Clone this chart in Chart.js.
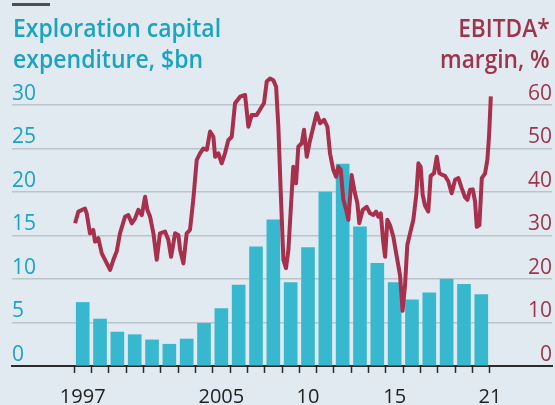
<!DOCTYPE html>
<html>
<head>
<meta charset="utf-8">
<script src="https://cdn.jsdelivr.net/npm/chart.js@4.4.1/dist/chart.umd.min.js"></script>
<style>
  html, body { margin: 0; padding: 0; }
  #wrap { position: relative; width: 555px; height: 405px; background: #e1eaf0; overflow: hidden; font-family: "Open Sans", sans-serif; }
  #c { position: absolute; left: 0; top: 0; }
  .rule { position: absolute; left: 12px; top: 3px; width: 38px; height: 3px; background: #4d4f52; }
  .ttl { position: absolute; font-size: 25px; font-weight: 600; line-height: 31px; white-space: nowrap; }
  #t1 { left: 13px; top: 12px; color: #1aa3c2; transform-origin: left top; }
  #t2 { right: 5px; top: 12px; color: #9e344c; text-align: right; transform-origin: right top; }
</style>
</head>
<body>
<div id="wrap">
  <canvas id="c" width="555" height="405"></canvas>
  <div class="rule"></div>
  <div class="ttl" id="t1">Exploration capital<br>expenditure, $bn</div>
  <div class="ttl" id="t2">EBITDA*<br>margin, %</div>
</div>
<script>
// exploration capex, $bn, one bar per year
const capexYears = [1997, 1998, 1999, 2000, 2001, 2002, 2003, 2004, 2005, 2006, 2007, 2008,
                    2009, 2010, 2011, 2012, 2013, 2014, 2015, 2016, 2017, 2018, 2019, 2020];
const capex = [7.3, 5.4, 3.9, 3.6, 3.0, 2.5, 3.1, 4.9, 6.6, 9.3, 13.7, 16.8,
               9.6, 13.6, 20.0, 23.2, 16.0, 11.8, 9.6, 7.6, 8.4, 10.0, 9.4, 8.2];

// EBITDA margin, %
const marginDates = [
  1997.06, 1997.25, 1997.63, 1997.73, 1997.92, 1998.11, 1998.21, 1998.40, 1998.60, 1998.89,
  1999.08, 1999.27, 1999.46, 1999.65, 1999.94, 2000.13, 2000.33, 2000.52, 2000.71, 2000.91,
  2001.10, 2001.23, 2001.39, 2001.58, 2001.77, 2001.96, 2002.25, 2002.44, 2002.60, 2002.83,
  2003.02, 2003.12, 2003.31, 2003.50, 2003.69, 2003.88, 2004.08, 2004.27, 2004.46, 2004.66,
  2004.85, 2005.04, 2005.14, 2005.33, 2005.52, 2005.71, 2005.90, 2006.10, 2006.29, 2006.58,
  2006.87, 2007.06, 2007.25, 2007.54, 2007.83, 2007.96, 2008.12, 2008.31, 2008.50, 2008.66,
  2008.79, 2008.93, 2009.08, 2009.23, 2009.37, 2009.56, 2009.65, 2009.81, 2009.94, 2010.14,
  2010.27, 2010.43, 2010.58, 2010.81, 2011.00, 2011.20, 2011.43, 2011.62, 2011.77, 2011.96,
  2012.12, 2012.25, 2012.39, 2012.54, 2012.70, 2012.83, 2012.93, 2013.02, 2013.21, 2013.35,
  2013.46, 2013.66, 2013.89, 2014.08, 2014.27, 2014.43, 2014.56, 2014.70, 2014.85, 2014.95,
  2015.08, 2015.23, 2015.42, 2015.62, 2015.81, 2015.96, 2016.10, 2016.23, 2016.39, 2016.58,
  2016.75, 2016.87, 2017.00, 2017.12, 2017.25, 2017.44, 2017.58, 2017.77, 2017.93, 2018.08,
  2018.22, 2018.41, 2018.60, 2018.79, 2018.99, 2019.18, 2019.37, 2019.56, 2019.70, 2019.85,
  2020.01, 2020.14, 2020.24, 2020.39, 2020.53, 2020.72, 2020.85, 2020.95, 2021.05
];
const margin = [
  32.8, 35.5, 36.2, 35.1, 30.5, 31.3, 28.6, 29.4, 25.9, 23.6,
  22.1, 24.4, 26.3, 30.5, 34.3, 34.7, 32.8, 33.9, 35.9, 34.7,
  38.9, 35.9, 34.3, 30.5, 24.4, 30.5, 30.9, 29.0, 25.1, 30.5,
  30.1, 26.7, 23.6, 30.5, 31.3, 38.2, 47.4, 48.9, 50.0, 49.7,
  53.9, 52.7, 48.1, 48.9, 46.6, 48.9, 51.9, 52.7, 60.4, 61.9,
  62.3, 55.0, 57.7, 57.7, 59.6, 60.4, 65.4, 66.1, 65.7, 64.2,
  55.0, 39.7, 24.4, 22.5, 26.7, 39.7, 45.8, 42.0, 50.4, 51.2,
  54.3, 48.1, 51.2, 55.0, 58.1, 55.8, 56.6, 55.0, 48.9, 45.1,
  43.5, 45.8, 45.1, 38.2, 35.9, 33.6, 38.9, 43.9, 39.7, 37.4,
  32.8, 35.9, 36.6, 35.1, 34.7, 35.5, 34.3, 35.1, 28.2, 25.1,
  33.6, 32.4, 29.8, 25.2, 20.9, 12.7, 18.6, 27.8, 30.5, 33.6,
  39.4, 46.6, 45.8, 39.3, 36.9, 35.5, 43.7, 44.3, 48.1, 44.3,
  44.0, 43.7, 42.4, 39.7, 42.8, 43.2, 40.9, 38.8, 38.2, 40.5,
  40.6, 37.8, 32.0, 32.4, 43.2, 44.3, 47.4, 53.0, 62.0
];

// x axis: tick marks at the start of each year, labels in the middle of the year
const tickYears = [1997, 1998, 1999, 2000, 2001, 2002, 2003, 2004, 2005, 2006, 2007, 2008, 2009,
                   2010, 2011, 2012, 2013, 2014, 2015, 2016, 2017, 2018, 2019, 2020, 2021];
const labelPos = [1997.5, 2005.5, 2010.5, 2015.5, 2021];
const labelText = ['1997', '2005', '10', '15', '21'];

const CYAN = '#1aa3c2';
const BAR = '#38b8cf';
const RED = '#9e344c';
const LINE = '#a8304c';
const GRID = '#bcc4ca';

// squeeze the headings to the condensed look of the original
function fitTitle(id, w) {
  const el = document.getElementById(id);
  const sc = w / el.offsetWidth;
  el.style.transform = 'scaleX(' + sc + ')';
}
fitTitle('t1', 208);
fitTitle('t2', 110);

const barData = capexYears.map((y, i) => ({ x: y + 0.5, y: capex[i] }));
const lineData = marginDates.map((d, i) => ({ x: d, y: margin[i] }));

const ctx = document.getElementById('c').getContext('2d');
const chart = new Chart(ctx, {
  type: 'bar',
  data: {
    datasets: [{
      type: 'line',
      data: lineData,
      yAxisID: 'y1',
      borderColor: LINE,
      borderWidth: 4,
      pointRadius: 0,
      tension: 0,
      borderJoinStyle: 'round',
      clip: false,
      order: 0
    }, {
      type: 'bar',
      data: barData,
      yAxisID: 'y',
      backgroundColor: BAR,
      barThickness: 13,
      order: 1
    }]
  },
  options: {
    responsive: false,
    animation: false,
    layout: { padding: { left: 12, right: 3, top: 105, bottom: 0 } },
    plugins: {
      legend: { display: false },
      tooltip: { enabled: false }
    },
    scales: {
      x: {
        type: 'linear',
        offset: false,
        min: 1993.42,
        max: 2024.58,
        afterBuildTicks: (scale) => {
          const vals = tickYears.concat(labelPos.filter(v => !tickYears.includes(v)));
          vals.sort((a, b) => a - b);
          scale.ticks = vals.map(v => ({ value: v }));
        },
        afterFit: (scale) => { scale.height = 39; },
        ticks: {
          autoSkip: false,
          maxRotation: 0,
          padding: 12,
          color: '#222',
          font: { family: 'Open Sans', size: 20 },
          callback: (v) => {
            const k = labelPos.indexOf(v);
            return k < 0 ? '' : labelText[k];
          }
        },
        grid: {
          drawOnChartArea: false,
          offset: false,
          tickLength: 7,
          tickWidth: 1.5,
          tickColor: (c) => (c.tick && tickYears.includes(c.tick.value)) ? '#2b2b2b' : 'rgba(0,0,0,0)'
        },
        border: { display: true, color: '#2b2b2b', width: 2 }
      },
      y: {
        position: 'left',
        min: 0,
        max: 30,
        afterFit: (scale) => { scale.width = 0; },
        ticks: {
          stepSize: 5,
          mirror: true,
          padding: 0,
          labelOffset: -11,
          color: CYAN,
          font: { family: 'Open Sans', size: 21 }
        },
        grid: {
          drawTicks: false,
          lineWidth: 1.5,
          color: (c) => (c.tick && c.tick.value === 0) ? 'rgba(0,0,0,0)' : GRID
        },
        border: { display: false }
      },
      y1: {
        position: 'right',
        min: 0,
        max: 60,
        afterFit: (scale) => { scale.width = 0; },
        ticks: {
          stepSize: 10,
          mirror: true,
          padding: 0,
          labelOffset: -11,
          color: RED,
          font: { family: 'Open Sans', size: 21 }
        },
        grid: { drawTicks: false, drawOnChartArea: false },
        border: { display: false }
      }
    }
  }
});
</script>
</body>
</html>
